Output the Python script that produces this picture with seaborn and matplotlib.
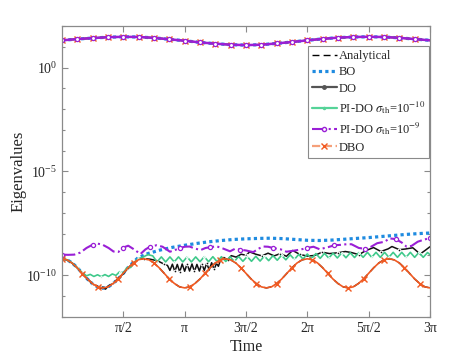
import numpy as np
import matplotlib
matplotlib.use("Agg")
import matplotlib.pyplot as plt
import seaborn as sns
from matplotlib.lines import Line2D
from matplotlib.ticker import FixedLocator, NullFormatter

sns.set_style("ticks")
plt.rcParams["font.family"] = ["Liberation Serif", "DejaVu Serif"]
plt.rcParams["mathtext.fontset"] = "stix"

# ---------------- data (time in units of pi, eigenvalues as log10) ----------------
# largest eigenvalue (all methods coincide)
top_t = [0, 0.125, 0.25, 0.375, 0.5, 0.625, 0.75, 0.875, 1.0, 1.125, 1.25, 1.375, 1.5,
         1.625, 1.75, 1.875, 2.0, 2.125, 2.25, 2.375, 2.5, 2.625, 2.75, 2.875, 3.0]
top_log10 = [1.31, 1.37, 1.42, 1.46, 1.48, 1.47, 1.43, 1.36, 1.29, 1.21, 1.15, 1.10, 1.08,
             1.10, 1.16, 1.23, 1.31, 1.38, 1.44, 1.47, 1.48, 1.47, 1.43, 1.37, 1.31]

# smallest eigenvalue
ana_t = np.linspace(0, 3, 73)
analytical_log10 = [
    -9.20, -9.25, -9.40, -9.63, -9.90, -10.17, -10.39, -10.55, -10.60, -10.55, -10.39, -10.17,
    -9.90, -9.63, -9.40, -9.25, -9.20, -9.25, -9.40, -9.63, -9.90, -10.17, -10.39, -10.55,
    -10.60, -10.55, -10.39, -10.17, -9.90, -9.63, -9.40, -9.25, -9.20, -9.25, -9.40, -9.63,
    -9.90, -10.17, -10.39, -10.55, -10.60, -10.55, -10.39, -10.17, -9.90, -9.63, -9.40, -9.25,
    -9.20, -9.25, -9.40, -9.63, -9.90, -10.17, -10.39, -10.55, -10.60, -10.55, -10.39, -10.17,
    -9.90, -9.63, -9.40, -9.25, -9.20, -9.25, -9.40, -9.63, -9.90, -10.17, -10.39, -10.55, -10.60]
dbo_log10 = [
    -9.20, -9.25, -9.41, -9.64, -9.91, -10.18, -10.40, -10.56, -10.61, -10.55, -10.39, -10.16,
    -9.89, -9.62, -9.39, -9.24, -9.20, -9.25, -9.40, -9.63, -9.90, -10.17, -10.39, -10.55,
    -10.60, -10.55, -10.39, -10.17, -9.90, -9.63, -9.40, -9.25, -9.20, -9.25, -9.40, -9.63,
    -9.90, -10.17, -10.39, -10.55, -10.60, -10.55, -10.39, -10.17, -9.90, -9.63, -9.40, -9.25,
    -9.20, -9.25, -9.40, -9.63, -9.90, -10.17, -10.39, -10.55, -10.60, -10.55, -10.39, -10.17,
    -9.90, -9.63, -9.40, -9.25, -9.20, -9.25, -9.40, -9.63, -9.90, -10.17, -10.39, -10.55, -10.60]

bo_t = [0, 0.042, 0.083, 0.125, 0.167, 0.208, 0.25, 0.292, 0.333, 0.375, 0.417, 0.458, 0.5,
        0.54, 0.58, 0.62, 0.7, 0.8, 0.9, 1.0, 1.1, 1.2, 1.3, 1.4, 1.5, 1.6, 1.7, 1.8, 1.9,
        2.0, 2.1, 2.2, 2.3, 2.4, 2.5, 2.6, 2.7, 2.8, 2.9, 3.0]
bo_log10 = [-9.20, -9.25, -9.40, -9.63, -9.90, -10.18, -10.41, -10.57, -10.62, -10.56, -10.39,
            -10.17, -9.90, -9.62, -9.38, -9.15, -8.95, -8.78, -8.65, -8.55, -8.46, -8.38, -8.32,
            -8.27, -8.24, -8.22, -8.21, -8.23, -8.27, -8.31, -8.32, -8.30, -8.26, -8.22, -8.18,
            -8.13, -8.08, -8.03, -7.99, -7.96]

do_t = [0, 0.042, 0.083, 0.125, 0.167, 0.208, 0.25, 0.29, 0.31, 0.333, 0.355, 0.375, 0.417,
        0.458, 0.5, 0.542, 0.583, 0.625, 0.667, 0.72, 0.78, 0.83,
        0.86, 0.88, 0.90, 0.92, 0.94, 0.96, 0.98, 1.00, 1.02, 1.04, 1.06, 1.08, 1.10, 1.12,
        1.14, 1.16, 1.18, 1.20, 1.22, 1.24, 1.26, 1.275,
        1.29, 1.32, 1.35, 1.38, 1.42, 1.46, 1.50, 1.53, 1.58, 1.63, 1.68, 1.73, 1.78, 1.83,
        1.88, 1.94, 2.00, 2.06, 2.12, 2.18, 2.25, 2.31, 2.36, 2.42, 2.48, 2.54, 2.60, 2.66,
        2.69, 2.75, 2.80, 2.86, 2.92, 2.96, 3.0]
do_log10 = [-9.20, -9.26, -9.41, -9.64, -9.92, -10.18, -10.42, -10.52, -10.64, -10.56, -10.66,
            -10.52, -10.38, -10.14, -9.92, -9.62, -9.40, -9.23, -9.19, -9.22, -9.30, -9.45,
            -9.52, -9.76, -9.46, -9.81, -9.47, -9.83, -9.45, -9.80, -9.44, -9.79, -9.45, -9.81,
            -9.47, -9.79, -9.43, -9.76, -9.41, -9.74, -9.39, -9.71, -9.42, -9.56,
            -9.30, -9.14, -9.25, -9.05, -9.12, -8.98, -9.03, -8.87, -8.98, -9.06, -8.93, -9.06,
            -8.95, -9.08, -8.80, -8.99, -9.07, -9.04, -8.88, -8.95, -8.91, -8.85, -8.90, -9.00,
            -8.80, -8.66, -8.85, -8.72, -8.61, -8.76, -8.73, -8.67, -8.97, -8.80, -8.62]

pido10_t = [0, 0.042, 0.083, 0.125, 0.167, 0.2, 0.23, 0.26, 0.29, 0.32, 0.35, 0.38, 0.41, 0.44,
            0.47, 0.50, 0.53, 0.56, 0.59, 0.62, 0.66, 0.70, 0.74,
            0.775, 0.81, 0.845, 0.88, 0.915, 0.95, 0.985, 1.02, 1.055, 1.09, 1.125, 1.16, 1.195,
            1.23, 1.265, 1.30, 1.335, 1.37, 1.405, 1.44, 1.475, 1.51, 1.545, 1.58, 1.615, 1.65,
            1.685, 1.72, 1.755, 1.79, 1.825, 1.86, 1.895, 1.93, 1.965, 2.0, 2.035, 2.07, 2.105,
            2.14, 2.175, 2.21, 2.245, 2.28, 2.315, 2.35, 2.385, 2.42, 2.455, 2.49, 2.525, 2.56,
            2.595, 2.63, 2.665, 2.70, 2.735, 2.77, 2.805, 2.84, 2.875, 2.91, 2.945, 2.98, 3.0]
pido10_log10 = [-9.20, -9.25, -9.40, -9.63, -9.88, -10.02, -9.95, -10.05, -9.97, -10.06, -9.96,
                -10.05, -9.93, -10.00, -9.82, -9.88, -9.62, -9.62, -9.36, -9.20, -9.12, -9.00,
                -9.06,
                -9.35, -9.11, -9.35, -9.11, -9.35, -9.11, -9.35, -9.11, -9.35, -9.11, -9.34,
                -9.10, -9.34, -9.10, -9.34, -9.10, -9.33, -9.10, -9.33, -9.09, -9.32, -9.09,
                -9.32, -9.08, -9.31, -9.07, -9.29, -9.05, -9.27, -9.03, -9.25, -9.01, -9.23,
                -8.99, -9.21, -8.97, -9.19, -8.95, -9.18, -8.94, -9.17, -8.93, -9.16, -8.92,
                -9.15, -8.91, -9.14, -8.90, -9.13, -8.89, -9.13, -8.89, -9.13, -8.89, -9.13,
                -8.89, -9.13, -8.89, -9.13, -8.89, -9.13, -8.89, -9.13, -8.90, -9.00]

pido9_t = [0, 0.05, 0.1, 0.15, 0.2, 0.25, 0.29, 0.33, 0.38, 0.42, 0.46, 0.5, 0.54, 0.58, 0.64,
           0.68, 0.72, 0.77, 0.82, 0.88, 0.92, 0.96, 1.0, 1.04, 1.08, 1.13, 1.17, 1.21, 1.26,
           1.31, 1.37, 1.41, 1.45, 1.5, 1.56, 1.6, 1.64, 1.68, 1.72, 1.78, 1.83, 1.88, 1.94,
           2.0, 2.05, 2.1, 2.17, 2.22, 2.27, 2.32, 2.36, 2.42, 2.47, 2.52, 2.57, 2.63, 2.67,
           2.72, 2.77, 2.81, 2.85, 2.9, 2.94, 3.0]
pido9_log10 = [-9.00, -9.01, -9.00, -8.90, -8.68, -8.52, -8.47, -8.52, -8.68, -8.85, -8.87,
               -8.66, -8.57, -8.72, -8.97, -8.75, -8.61, -8.55, -8.62, -8.86, -8.78, -8.69,
               -8.62, -8.61, -8.70, -8.78, -8.68, -8.64, -8.60, -8.70, -8.84, -8.72, -8.76,
               -8.80, -8.88, -8.72, -8.61, -8.62, -8.68, -8.74, -8.86, -8.82, -8.76, -8.68,
               -8.62, -8.74, -8.64, -8.55, -8.53, -8.50, -8.50, -8.68, -8.72, -8.62, -8.45,
               -8.38, -8.22, -8.25, -8.42, -8.62, -8.58, -8.38, -8.30, -8.20]

x_ticks = [0.5, 1.0, 1.5, 2.0, 2.5, 3.0]
x_ticklabels = ["π/2", "π", "3π/2", "2π", "5π/2", "3π"]

labels = ["Analytical", "BO", "DO",
          r"PI-DO $\sigma_{\rm th}$=10$^{-10}$",
          r"PI-DO $\sigma_{\rm th}$=10$^{-9}$", "DBO"]

# ---------------- styles ----------------
C_BO = "#1f8be0"
C_DO = "#111111"
C_P10 = "#3fc98b"
C_P9 = "#9a1fd6"
C_DBO = "#f15a22"

styles = {
    "Analytical": dict(color="black", linestyle=(0, (5, 3)), linewidth=1.0, marker="None"),
    "BO": dict(color=C_BO, linestyle=(0, (1, 1)), linewidth=2.3, marker="None"),
    "DO": dict(color=C_DO, linestyle="-", linewidth=1.1, marker=".", markersize=4,
               markevery=0.045),
    "P10": dict(color=C_P10, linestyle="-", linewidth=1.2, marker=".", markersize=2.5,
                markevery=0.05),
    "P9": dict(color=C_P9, linestyle="-.", linewidth=1.5, marker="o", markersize=3,
               markerfacecolor="white", markeredgecolor=C_P9, markeredgewidth=0.9,
               markevery=0.07),
    "DBO": dict(color=C_DBO, linestyle="-", linewidth=1.2, marker="x", markersize=4,
                markeredgecolor=C_DBO, markeredgewidth=1.0, markevery=0.048),
}

fig = plt.figure(figsize=(4.75, 3.56), dpi=100)
ax = fig.add_axes([0.1305, 0.1096, 0.7747, 0.8174])


def draw(t, v, st, ax=ax):
    n_before = len(ax.lines)
    sns.lineplot(x=np.asarray(t, float) * np.pi, y=10.0 ** np.asarray(v, float), ax=ax,
                 estimator=None, sort=False, legend=False, color=st["color"])
    for ln in ax.lines[n_before:]:
        ln.set(**st)


top_style = {k: dict(v) for k, v in styles.items()}
for k in ("DO", "P10", "P9", "DBO"):
    top_style[k]["markevery"] = 0.032
top_style["P9"]["linestyle"] = "-"
top_style["P9"]["linewidth"] = 1.8

# upper eigenvalue (all methods)
draw(top_t, top_log10, styles["Analytical"])
draw(top_t, top_log10, styles["BO"])
draw(top_t, top_log10, top_style["DO"])
draw(top_t, top_log10, top_style["P10"])
draw(top_t, top_log10, top_style["DBO"])
draw(top_t, top_log10, top_style["P9"])

# lower eigenvalue
draw(ana_t, analytical_log10, styles["Analytical"])
draw(bo_t, bo_log10, styles["BO"])
draw(do_t, do_log10, styles["DO"])
draw(pido10_t, pido10_log10, styles["P10"])
draw(pido9_t, pido9_log10, styles["P9"])
draw(ana_t, dbo_log10, styles["DBO"])

ax.set_yscale("log")
ax.set_ylim(1e-12, 1e2)
ax.set_xlim(0, 3 * np.pi)
ax.yaxis.set_major_locator(FixedLocator([1e-10, 1e-5, 1e0]))
ax.yaxis.set_minor_locator(FixedLocator([10.0 ** k for k in range(-12, 3)]))
ax.yaxis.set_minor_formatter(NullFormatter())
ax.set_xticks(np.array(x_ticks) * np.pi)
ax.set_xticklabels(x_ticklabels)

ax.tick_params(which="both", direction="in", top=True, right=True, colors="#8a8a8a",
               labelcolor="#262626", labelsize=10, width=0.8)
ax.tick_params(which="major", length=4)
ax.tick_params(which="minor", length=2.5)
for s in ax.spines.values():
    s.set_color("#8a8a8a")
    s.set_linewidth(0.9)

ax.set_xlabel("Time", fontsize=11.5, color="#262626", labelpad=3)
ax.set_ylabel("Eigenvalues", fontsize=12, color="#262626", labelpad=0)

handles = [
    Line2D([], [], **styles["Analytical"]),
    Line2D([], [], **styles["BO"]),
    Line2D([], [], color="#555555", linestyle="-", linewidth=1.6, marker=".", markersize=5),
    Line2D([], [], color="#55d398", linestyle="-", linewidth=1.6, marker=".", markersize=3),
    Line2D([], [], color=C_P9, linestyle="-.", linewidth=1.5, marker="o", markersize=3,
           markerfacecolor="white"),
    Line2D([], [], color="#f5a07a", linestyle="--", linewidth=1.6, marker="x", markersize=4,
           markeredgecolor=C_DBO),
]
leg = ax.legend(handles, labels, loc="upper left", bbox_to_anchor=(0.668, 0.93),
                fontsize=9, frameon=True, fancybox=False, framealpha=1, edgecolor="#8a8a8a",
                borderpad=0.3, labelspacing=0.35, handlelength=2.0, handletextpad=0.2,
                borderaxespad=0)
leg.get_frame().set_linewidth(0.8)

fig.savefig("out.png", dpi=100)
